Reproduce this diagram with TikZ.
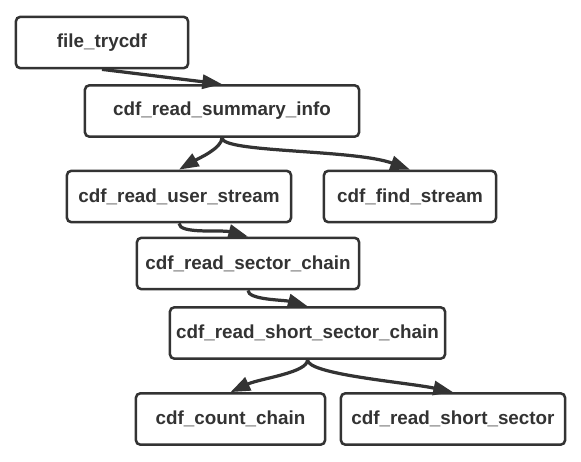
\documentclass[tikz,border=0pt]{standalone}
\usepackage{fontspec}
\setmainfont{Liberation Sans}
\usetikzlibrary{arrows.meta}
\definecolor{inkgray}{RGB}{51,51,51}

\begin{document}
\begin{tikzpicture}[x=0.025cm, y=-0.025cm,
    func/.style={rectangle, rounded corners=3pt, draw=inkgray, line width=1.8pt, fill=white,
                 minimum height=1.28cm, inner sep=0pt, font=\fontsize{13.4}{16}\selectfont\bfseries,
                 text=inkgray},
    call/.style={-{Triangle[length=14pt, width=10pt]}, line width=2.3pt, color=inkgray},
]
\useasboundingbox (0,0) rectangle (581,462);

% Function nodes
\node[func, minimum width=4.3cm]   (trycdf)  at (102, 42.5) {file\_trycdf};
\node[func, minimum width=6.85cm]  (summary) at (222, 111)  {cdf\_read\_summary\_info};
\node[func, minimum width=5.6cm]   (user)    at (179, 196.5) {cdf\_read\_user\_stream};
\node[func, minimum width=4.3cm]   (find)    at (410, 196.5) {cdf\_find\_stream};
\node[func, minimum width=5.55cm]  (sector)  at (248, 263.5) {cdf\_read\_sector\_chain};
\node[func, minimum width=6.875cm] (short)   at (307.5, 333) {cdf\_read\_short\_sector\_chain};
\node[func, minimum width=4.725cm] (count)   at (230.5, 419) {cdf\_count\_chain};
\node[func, minimum width=5.6cm]   (shortsec) at (453, 419) {cdf\_read\_short\_sector};

% Calls
\draw[call] (trycdf.south) -- (summary.north);
\draw[call] (summary.south) to[out=-90, in=30, out looseness=0.5, in looseness=1] (user.north);
\draw[call] (summary.south) to[out=-90, in=160, out looseness=0.2, in looseness=0.8] (find.north);
\draw[call] (user.south) to[out=-90, in=165, out looseness=0.4, in looseness=1] (sector.north);
\draw[call] (sector.south) to[out=-90, in=165, out looseness=0.4, in looseness=1] (short.north);
\draw[call] (short.south) to[out=-90, in=25, out looseness=0.4, in looseness=1] (count.north);
\draw[call] (short.south) to[out=-90, in=168, out looseness=0.25, in looseness=0.8] (shortsec.north);

\end{tikzpicture}
\end{document}
